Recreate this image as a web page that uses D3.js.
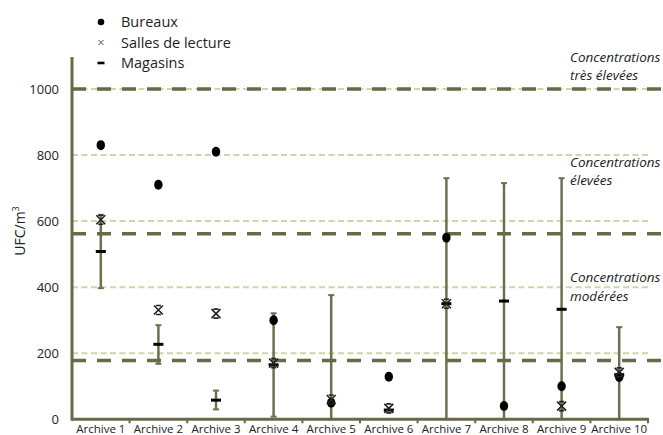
<!DOCTYPE html>
<html>
<head>
<meta charset="utf-8">
<script src="https://cdn.jsdelivr.net/npm/d3@7"></script>
<style>
  body { margin: 0; background: #fff; }
  svg { font-family: "Open Sans", sans-serif; }
</style>
</head>
<body>
<div class="chart"></div>
<script>
const categories = ["Archive 1", "Archive 2", "Archive 3", "Archive 4", "Archive 5",
    "Archive 6", "Archive 7", "Archive 8", "Archive 9", "Archive 10"]
const bureaux = [830, 710, 810, 300, 50, 129, 550, 40, 100, 128]
const salles = [604, 331, 320, 170, 60, 33, 350, null, 40, 142]
const magasins = [508, 227, 58, 165, 178, 28, 350, 358, 333, 135]
const magasinsLow = [397, 168, 30, 8, 0, null, 0, 0, 0, 0]
const magasinsHigh = [619, 285, 87, 321, 376, null, 730, 715, 730, 279]
const yTicks = [0, 200, 400, 600, 800, 1000]
const thresholds = [1000, 562, 178]
const zoneLabels = [
    ["Concentrations", "très élevées"],
    ["Concentrations", "élevées"],
    ["Concentrations", "modérées"]
]
const zoneLabelAt = [1083, 764, 415]
const legendItems = ["Bureaux", "Salles de lecture", "Magasins"]

const width = 663,
    height = 435,
    dark = "#666a47",
    light = "#c9d9aa"

const x = d3.scaleBand()
    .domain(categories)
    .range([72, 648])

const y = d3.scaleLinear()
    .domain([0, 1000])
    .range([419.3, 89])

const cx = d => x(d) + x.bandwidth() / 2

const svg = d3.select(".chart")
    .append("svg")
    .attr("width", width)
    .attr("height", height)

// light grid lines
svg.append("g")
    .selectAll("line")
    .data(yTicks.slice(1))
    .join("line")
    .attr("x1", x.range()[0])
    .attr("x2", x.range()[1])
    .attr("y1", d => y(d))
    .attr("y2", d => y(d))
    .attr("stroke", light)
    .attr("stroke-width", 2)
    .attr("stroke-dasharray", "6,3.5")

// error bars (magasins)
const err = categories.map((c, i) => ({ c, lo: magasinsLow[i], hi: magasinsHigh[i] }))
    .filter(d => d.lo !== null)
const eb = svg.append("g")
    .attr("stroke", "#6c704e")
eb.selectAll(".stem")
    .data(err)
    .join("line")
    .attr("x1", d => cx(d.c)).attr("x2", d => cx(d.c))
    .attr("y1", d => y(d.lo)).attr("y2", d => y(d.hi))
    .attr("stroke-width", 2.5)
eb.selectAll(".capHi")
    .data(err)
    .join("line")
    .attr("x1", d => cx(d.c) - 3).attr("x2", d => cx(d.c) + 3)
    .attr("y1", d => y(d.hi)).attr("y2", d => y(d.hi))
    .attr("stroke-width", 2)
eb.selectAll(".capLo")
    .data(err)
    .join("line")
    .attr("class", "capLo")
    .attr("x1", d => cx(d.c) - 3).attr("x2", d => cx(d.c) + 3)
    .attr("y1", d => y(d.lo)).attr("y2", d => y(d.lo))
    .attr("stroke-width", 2)

// magasins marks (under the threshold lines)
svg.append("g")
    .selectAll("rect")
    .data(categories)
    .join("rect")
    .attr("x", d => cx(d) - 5)
    .attr("y", (d, i) => y(magasins[i]) - 1.5)
    .attr("width", 10)
    .attr("height", 3)
    .attr("fill", "#000")

// threshold lines
svg.append("g")
    .selectAll("line")
    .data(thresholds)
    .join("line")
    .attr("x1", x.range()[0])
    .attr("x2", width)
    .attr("y1", d => y(d))
    .attr("y2", d => y(d))
    .attr("stroke", dark)
    .attr("stroke-width", 3.5)
    .attr("stroke-dasharray", "14,11")

// y tick labels
svg.append("g")
    .selectAll("text")
    .data(yTicks)
    .join("text")
    .attr("x", 59)
    .attr("y", d => y(d))
    .attr("dy", "0.35em")
    .attr("text-anchor", "end")
    .style("font-size", "13px")
    .style("fill", "#222")
    .text(d => d)

// axes
svg.append("line")
    .attr("x1", 72).attr("x2", 72)
    .attr("y1", y(0) + 1.5).attr("y2", 57)
    .attr("stroke", dark).attr("stroke-width", 3)

svg.append("line")
    .attr("x1", 72).attr("x2", x.range()[1] + 1)
    .attr("y1", y(0)).attr("y2", y(0))
    .attr("stroke", dark).attr("stroke-width", 3)

const xAxis = d3.axisBottom(x).tickSize(0).tickPadding(5)
const gx = svg.append("g")
    .attr("transform", `translate(0,${y(0) + 1})`)
    .call(xAxis)
gx.select(".domain").remove()
gx.selectAll("text")
    .style("font-size", "11.5px")
    .style("font-family", "Open Sans, sans-serif")
    .style("fill", "#222")

svg.append("g")
    .selectAll("line")
    .data(categories.slice(1).concat(["end"]))
    .join("line")
    .attr("x1", d => d === "end" ? x.range()[1] : x(d))
    .attr("x2", d => d === "end" ? x.range()[1] : x(d))
    .attr("y1", y(0))
    .attr("y2", y(0) + 4)
    .attr("stroke", dark)
    .attr("stroke-width", 2)

// y label
svg.append("text")
    .attr("transform", `translate(25,231) rotate(-90)`)
    .attr("text-anchor", "middle")
    .style("font-size", "14px")
    .style("fill", "#222")
    .html('UFC/m<tspan dy="-6" font-size="9px">3</tspan>')

// zone labels
const zl = svg.append("g")
    .selectAll("text")
    .data(zoneLabels)
    .join("text")
    .attr("x", 570)
    .attr("y", (d, i) => y(zoneLabelAt[i]))
    .style("font-size", "13.5px")
    .style("font-style", "italic")
    .style("fill", "#222")
zl.selectAll("tspan")
    .data(d => d)
    .join("tspan")
    .attr("x", 570)
    .attr("dy", (d, i) => i ? 18.5 : 0)
    .text(d => d)

// markers
function crossPath(px, py) {
    const s = 4.5
    return `M${px - s},${py - s}L${px + s},${py + s}M${px + s},${py - s}L${px - s},${py + s}` +
        `M${px - 2.5},${py - s}L${px + 2.5},${py - s}M${px - 2.5},${py + s}L${px + 2.5},${py + s}`
}

svg.append("g")
    .selectAll("ellipse")
    .data(categories)
    .join("ellipse")
    .attr("cx", d => cx(d))
    .attr("cy", (d, i) => y(bureaux[i]))
    .attr("rx", 4.2)
    .attr("ry", 5)
    .attr("fill", "#000")

svg.append("g")
    .selectAll("path")
    .data(categories.filter((d, i) => salles[i] !== null))
    .join("path")
    .attr("d", d => crossPath(cx(d), y(salles[categories.indexOf(d)])))
    .attr("stroke", "#222")
    .attr("stroke-width", 1.6)
    .attr("fill", "none")

// legend
const lg = svg.append("g")
    .selectAll("g")
    .data(legendItems)
    .join("g")
    .attr("transform", (d, i) => `translate(101,${22 + i * 20.5})`)
lg.append("text")
    .attr("x", 20)
    .attr("dy", "0.35em")
    .style("font-size", "14.5px")
    .style("fill", "#222")
    .text(d => d)
lg.filter((d, i) => i === 0).append("circle")
    .attr("r", 3.3).attr("fill", "#000")
lg.filter((d, i) => i === 1).append("path")
    .attr("d", "M-2.5,-2.5L2.5,2.5M2.5,-2.5L-2.5,2.5")
    .attr("stroke", "#444").attr("stroke-width", 1)
lg.filter((d, i) => i === 2).append("rect")
    .attr("x", -3.5).attr("y", -1.3).attr("width", 7).attr("height", 2.6)
    .attr("fill", "#000")
</script>
</body>
</html>
